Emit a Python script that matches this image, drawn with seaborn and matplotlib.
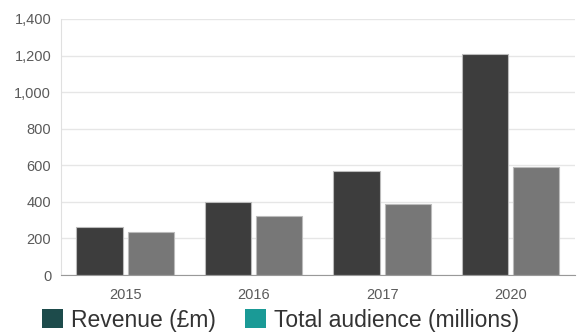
import matplotlib
matplotlib.use('Agg')
import matplotlib.pyplot as plt
from matplotlib.patches import Patch
from matplotlib.ticker import FuncFormatter
import seaborn as sns
import pandas as pd

years = ['2015', '2016', '2017', '2020']
revenue = [262, 400, 568, 1208]
audience = [235, 323, 388, 590]
series = ['Revenue (£m)', 'Total audience (millions)']

df = pd.DataFrame({
    'year': years * 2,
    'value': revenue + audience,
    'series': [series[0]] * 4 + [series[1]] * 4,
})

sns.set_style('white')
plt.rcParams['font.family'] = ['Liberation Sans', 'DejaVu Sans']

fig = plt.figure(figsize=(5.86, 3.33), dpi=100)
ax = fig.add_axes([0.104, 0.174, 0.877, 0.769])

sns.barplot(data=df, x='year', y='value', hue='series', ax=ax,
            palette=['#3d3d3d', '#777777'], width=0.8, gap=0.1,
            edgecolor='#bbbbbb', linewidth=0.8, saturation=1, legend=False)

ax.set_ylim(0, 1400)
ax.set_yticks(range(0, 1401, 200))
ax.yaxis.set_major_formatter(FuncFormatter(lambda v, p: f'{int(v):,}'))
ax.grid(axis='y', color='#e6e6e6', linewidth=1)
ax.set_axisbelow(True)
ax.set_xlabel('')
ax.set_ylabel('')
for s in ['top', 'right']:
    ax.spines[s].set_visible(False)
ax.spines['left'].set_color('#e0e0e0')
ax.spines['bottom'].set_color('#999999')
ax.tick_params(axis='both', length=0, colors='#5a5a5a', labelsize=10.5)
ax.tick_params(axis='y', pad=7)
ax.tick_params(axis='x', pad=9)

handles = [Patch(facecolor='#1d4b4b', edgecolor='none'),
           Patch(facecolor='#1a9a96', edgecolor='none')]
fig.legend(handles, series, loc='center left', bbox_to_anchor=(0.0717, 0.039),
           ncol=2, frameon=False, fontsize=16.5, handlelength=0.9,
           handleheight=0.9, handletextpad=0.35, columnspacing=1.3,
           borderpad=0, borderaxespad=0, labelcolor='#333333')

fig.savefig('out.png', dpi=100)
